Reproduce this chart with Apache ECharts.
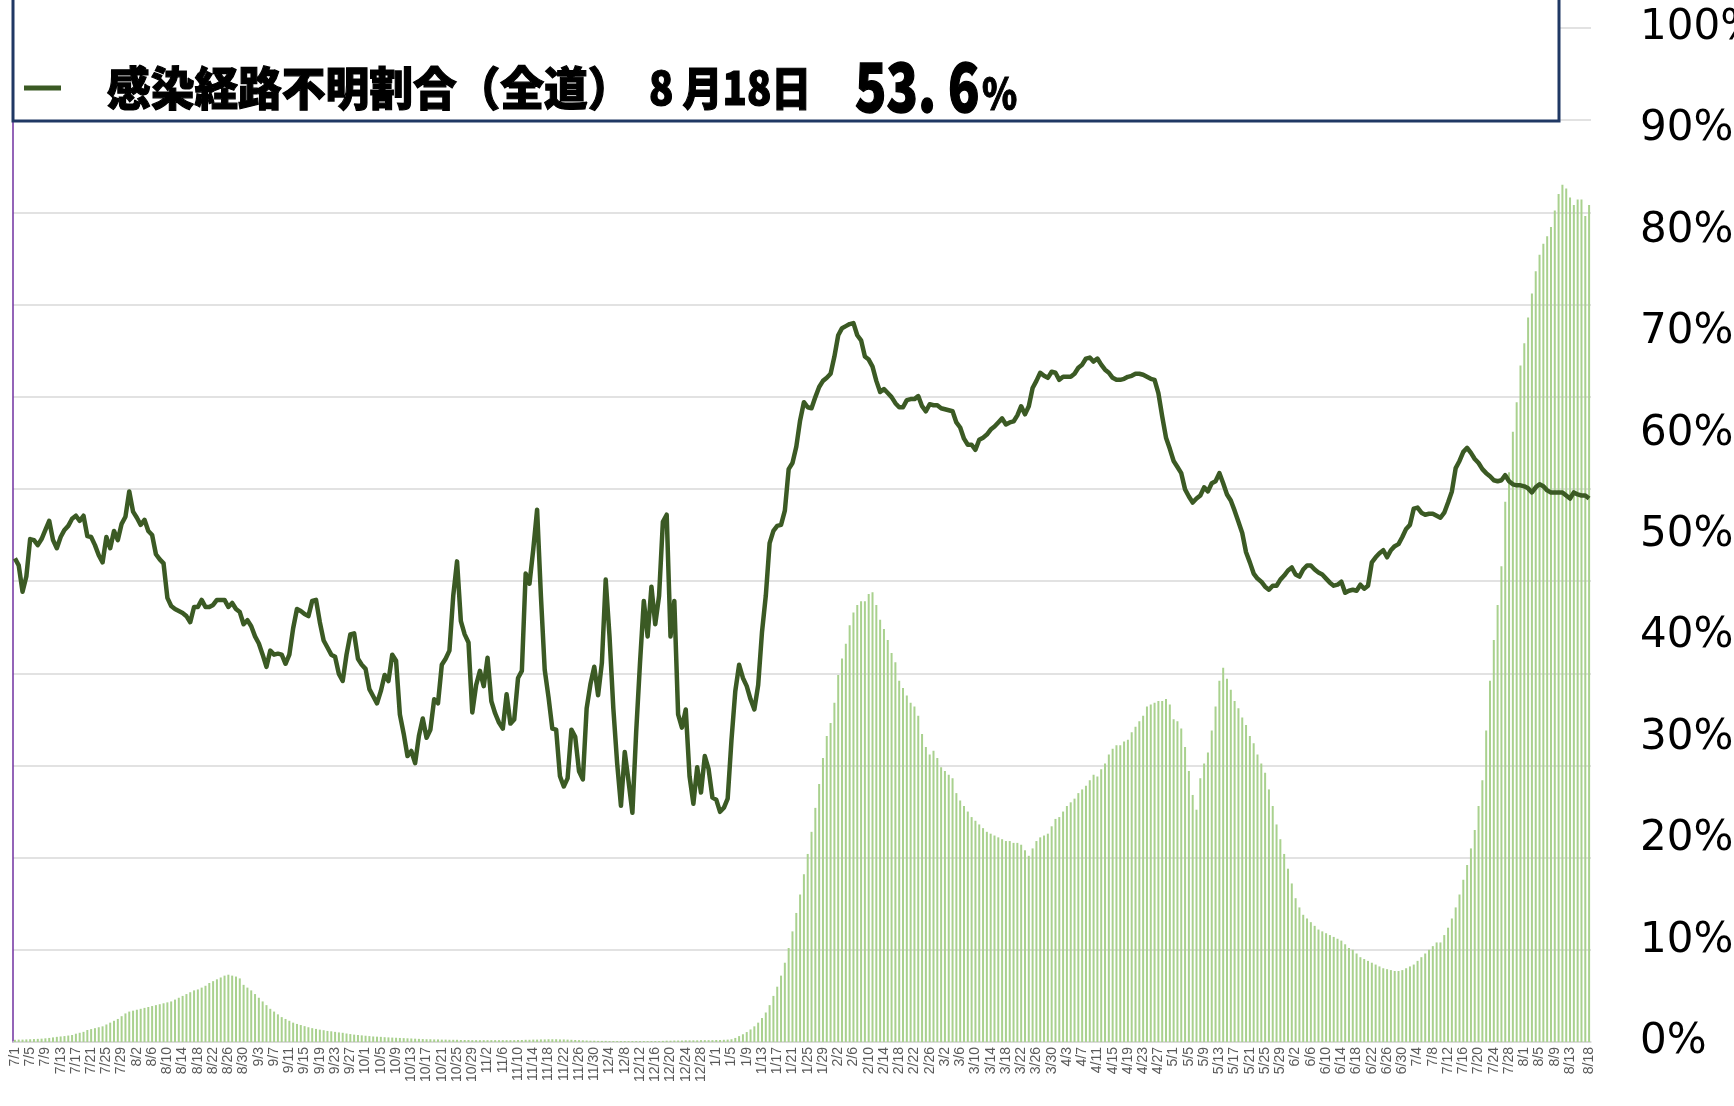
<!DOCTYPE html>
<html>
<head>
<meta charset="utf-8">
<script src="https://cdn.jsdelivr.net/npm/echarts/dist/echarts.min.js"></script>
<style>
  html, body { margin: 0; padding: 0; background: #fff; }
  #main { width: 1734px; height: 1106px; }
</style>
</head>
<body>
<div id="main"></div>
<script>
// 日付（2020/7/1 〜 2021/8/18）
var dates = [];
for (var d = new Date(2020, 6, 1); d <= new Date(2021, 7, 18); d.setDate(d.getDate() + 1)) {
  dates.push((d.getMonth() + 1) + '/' + d.getDate());
}

// 感染経路不明割合（全道）%
var unknownRate = [
  47.7, 47.0, 44.4, 45.9, 49.6, 49.5, 49.0, 49.6, 50.5, 51.4,
  49.5, 48.7, 49.8, 50.5, 50.9, 51.6, 51.9, 51.4, 51.9, 49.9,
  49.8, 49.0, 48.0, 47.3, 49.8, 48.7, 50.4, 49.5, 51.1, 51.8,
  54.3, 52.3, 51.7, 51.0, 51.5, 50.4, 50.0, 48.1, 47.6, 47.2,
  43.8, 43.0, 42.7, 42.5, 42.3, 42.0, 41.4, 42.9, 42.9, 43.6,
  42.9, 42.9, 43.1, 43.6, 43.6, 43.6, 42.9, 43.3, 42.7, 42.4,
  41.2, 41.6, 41.0, 40.0, 39.3, 38.2, 37.0, 38.6, 38.2, 38.3,
  38.2, 37.3, 38.2, 40.8, 42.7, 42.5, 42.2, 42.0, 43.5, 43.6,
  41.4, 39.6, 38.9, 38.2, 38.0, 36.3, 35.6, 38.2, 40.2, 40.3,
  37.8, 37.2, 36.8, 34.8, 34.1, 33.4, 34.6, 36.2, 35.6, 38.2,
  37.6, 32.3, 30.4, 28.2, 28.7, 27.5, 30.2, 31.9, 30.0, 30.8,
  33.8, 33.4, 37.2, 37.8, 38.6, 44.0, 47.4, 41.5, 40.2, 39.4,
  32.5, 35.2, 36.6, 35.1, 37.9, 33.6, 32.4, 31.5, 30.9, 34.3,
  31.4, 31.8, 35.9, 36.6, 46.2, 45.2, 48.6, 52.5, 44.0, 36.7,
  34.0, 30.9, 30.8, 26.2, 25.2, 26.0, 30.8, 30.1, 26.7, 25.9,
  32.9, 35.3, 37.0, 34.2, 37.4, 45.6, 40.0, 32.9, 27.5, 23.3,
  28.6, 25.7, 22.6, 30.6, 37.4, 43.5, 40.0, 44.9, 41.2, 44.0,
  51.3, 52.0, 40.0, 43.5, 32.3, 31.0, 32.8, 26.2, 23.5, 27.1,
  24.6, 28.2, 26.9, 24.1, 23.9, 22.7, 23.1, 24.0, 29.8, 34.6,
  37.2, 35.9, 35.1, 33.8, 32.8, 35.2, 40.4, 44.0, 49.2, 50.4,
  50.9, 51.0, 52.4, 56.5, 57.1, 58.7, 61.3, 63.1, 62.6, 62.5,
  63.6, 64.6, 65.2, 65.5, 65.9, 67.6, 69.7, 70.4, 70.6, 70.8,
  70.9, 69.7, 69.2, 67.6, 67.3, 66.6, 65.2, 64.1, 64.4, 64.0,
  63.6, 63.0, 62.6, 62.6, 63.3, 63.4, 63.4, 63.7, 62.7, 62.2,
  62.9, 62.8, 62.8, 62.5, 62.4, 62.3, 62.2, 61.1, 60.6, 59.5,
  58.9, 58.9, 58.4, 59.4, 59.6, 59.9, 60.4, 60.7, 61.1, 61.5,
  60.9, 61.1, 61.2, 61.8, 62.7, 61.9, 62.7, 64.5, 65.2, 66.0,
  65.7, 65.5, 66.1, 66.0, 65.3, 65.6, 65.6, 65.6, 65.9, 66.5,
  66.8, 67.4, 67.5, 67.1, 67.4, 66.8, 66.3, 66.0, 65.5, 65.3,
  65.3, 65.4, 65.6, 65.7, 65.9, 65.9, 65.8, 65.6, 65.4, 65.3,
  64.0, 61.7, 59.6, 58.5, 57.3, 56.7, 56.1, 54.5, 53.8, 53.2,
  53.6, 53.9, 54.7, 54.3, 55.1, 55.3, 56.1, 55.1, 54.0, 53.4,
  52.4, 51.3, 50.2, 48.3, 47.3, 46.2, 45.7, 45.4, 44.9, 44.6,
  45.0, 45.0, 45.6, 46.0, 46.5, 46.8, 46.1, 45.9, 46.6, 47.0,
  47.0, 46.6, 46.3, 46.1, 45.7, 45.3, 45.0, 45.1, 45.4, 44.3,
  44.5, 44.6, 44.5, 45.1, 44.7, 45.0, 47.3, 47.8, 48.2, 48.5,
  47.8, 48.5, 48.9, 49.1, 49.8, 50.6, 51.0, 52.6, 52.7, 52.2,
  52.0, 52.1, 52.1, 51.9, 51.7, 52.2, 53.2, 54.3, 56.6, 57.3,
  58.2, 58.6, 58.1, 57.5, 57.1, 56.5, 56.1, 55.8, 55.4, 55.3,
  55.4, 55.9, 55.3, 55.0, 54.9, 54.9, 54.8, 54.6, 54.2, 54.7,
  55.0, 54.8, 54.4, 54.2, 54.2, 54.2, 54.2, 53.9, 53.6, 54.2,
  54.0, 53.9, 53.9, 53.6
];

// 棒グラフ（左軸・目盛非表示）
var barValues = [
  1.2, 1.3, 1.3, 1.4, 1.5, 1.6, 1.7, 1.8, 2.0, 2.2,
  2.5, 2.8, 3.0, 3.2, 3.5, 3.8, 4.5, 5.0, 5.5, 6.5,
  7, 7.5, 8, 8.5, 9.5, 10.5, 11.5, 12.5, 14, 15.5,
  16.5, 17, 17.5, 18, 18.5, 19, 19.5, 20, 20.5, 21,
  21.5, 22, 23, 24, 25, 26, 27, 28, 28.5, 29.5,
  30.5, 32, 33, 34, 35, 36, 36.5, 36, 35.5, 34.5,
  31, 29.5, 28, 26, 24, 22, 20, 18, 16.5, 15,
  13.5, 12.5, 11.5, 10.5, 9.8, 9.2, 8.6, 8, 7.5, 7.1,
  6.7, 6.4, 6, 5.8, 5.5, 5.2, 5, 4.6, 4.3, 4,
  3.8, 3.6, 3.4, 3.2, 3.0, 2.9, 2.8, 2.6, 2.5, 2.4,
  2.3, 2.2, 2.1, 2.0, 1.9, 1.8, 1.7, 1.6, 1.5, 1.5,
  1.4, 1.4, 1.3, 1.3, 1.2, 1.2, 1.2, 1.1, 1.1, 1.1,
  1.0, 1.0, 1.0, 1.0, 1.0, 1.0, 1.0, 1.0, 1.0, 1.0,
  1.0, 1.0, 1.1, 1.1, 1.2, 1.2, 1.3, 1.3, 1.4, 1.4,
  1.5, 1.5, 1.5, 1.4, 1.4, 1.3, 1.2, 1.1, 1.0, 0.9,
  0.8, 0.7, 0.7, 0.6, 0.6, 0.6, 0.5, 0.5, 0.5, 0.5,
  0.5, 0.5, 0.5, 0.5, 0.5, 0.5, 0.5, 0.5, 0.5, 0.5,
  0.6, 0.7, 0.7, 0.8, 0.8, 0.8, 0.9, 0.9, 0.9, 0.9,
  1.0, 1.0, 1.0, 1.0, 1.1, 1.1, 1.2, 1.3, 1.5, 2.2,
  3.2, 4.2, 5.4, 6.8, 8.5, 10.5, 13, 16, 20, 25,
  30, 36, 43, 51, 60, 70, 80, 91, 102, 114,
  127, 140, 154, 166, 173, 184, 199, 208, 216, 226,
  233, 237, 239, 239, 243, 244, 237, 229, 224, 218,
  211, 206, 196, 192, 188, 184, 182, 177, 167, 160,
  156, 158, 154, 149, 147, 145, 143, 135, 131, 128,
  125, 122, 120, 118, 116, 114, 113, 112, 111, 110,
  109, 109, 108, 108, 107, 104, 101, 105, 109, 111,
  112, 113, 117, 121, 122, 125, 128, 130, 132, 135,
  137, 139, 142, 145, 144, 148, 151, 156, 159, 161,
  161, 163, 164, 168, 171, 174, 177, 182, 183, 184,
  185, 185, 186, 183, 175, 174, 170, 160, 147, 134,
  126, 143, 151, 157, 169, 182, 196, 203, 197, 191,
  185, 181, 176, 172, 166, 162, 156, 151, 146, 137,
  128, 118, 110, 102, 94, 86, 78, 73, 69, 67,
  65, 63, 61, 60, 59, 58, 57, 56, 55, 53,
  51, 50, 48, 46, 45, 44, 43, 42, 41, 40,
  39.5, 39, 38.5, 38.5, 39, 40, 41, 42, 44, 46,
  48, 50, 52, 54, 54, 58, 62, 67, 73, 80,
  88, 96, 105, 115, 128, 142, 169, 196, 218, 237,
  258, 293, 309, 331, 347, 367, 379, 393, 406, 418,
  427, 433, 437, 442, 451, 460, 465, 463, 458, 454,
  457, 457, 448, 454
];

var rightTicks = [0, 100, 10];   // min, max, interval (%)
var leftTicks = [0, 550, 50];    // 11 本の目盛線

var titleText = '感染経路不明割合（全道）';
var dateText = '8 月18日';
var latestText = '53. 6';

var myChart = echarts.init(document.getElementById('main'));

var option = {
  animation: false,
  backgroundColor: '#fff',
  grid: {
    left: 13, right: 143, top: 28, bottom: 64,
    containLabel: false,
    outerBoundsMode: 'none'
  },
  xAxis: {
    type: 'category',
    data: dates,
    boundaryGap: true,
    axisLine: { lineStyle: { color: '#d9d9d9', width: 1.5 } },
    axisTick: { show: false },
    axisLabel: {
      rotate: 90,
      margin: 5,
      fontSize: 14,
      fontFamily: 'Liberation Sans',
      color: '#595959',
      hideOverlap: false,
      showMinLabel: true,
      showMaxLabel: true,
      interval: function (idx) { return idx % 4 === 0 || idx === dates.length - 1; }
    }
  },
  yAxis: [
    {
      type: 'value',
      position: 'left',
      min: leftTicks[0], max: leftTicks[1], interval: leftTicks[2],
      axisLine: { show: true, lineStyle: { color: '#7030a0', width: 1.5 } },
      axisTick: { show: false },
      axisLabel: { show: false },
      splitLine: { lineStyle: { color: '#d9d9d9', width: 1.5 } }
    },
    {
      type: 'value',
      position: 'right',
      min: rightTicks[0], max: rightTicks[1], interval: rightTicks[2],
      axisLine: { show: false },
      axisTick: { show: false },
      splitLine: { show: false },
      axisLabel: {
        formatter: '{value}%',
        margin: 49,
        fontSize: 42,
        fontFamily: 'DejaVu Sans',
        color: '#000'
      }
    }
  ],
  series: [
    {
      type: 'bar',
      yAxisIndex: 0,
      data: barValues,
      barWidth: 2,
      itemStyle: { color: '#a9d18e' }
    },
    {
      type: 'line',
      yAxisIndex: 1,
      data: unknownRate,
      showSymbol: false,
      symbol: 'none',
      lineStyle: { color: '#3b5a24', width: 4.5, join: 'round' }
    }
  ],
  graphic: [
    {
      type: 'rect', z: 100,
      shape: { x: 13, y: -10, width: 1546, height: 131 },
      style: { fill: '#fff', stroke: '#203864', lineWidth: 3 }
    },
    {
      type: 'line', z: 101,
      shape: { x1: 24, y1: 88, x2: 61, y2: 88 },
      style: { stroke: '#3b5a24', lineWidth: 5 }
    },
    {
      type: 'text', z: 101, x: 107, y: 88, scaleX: 0.95,
      style: {
        text: titleText, fill: '#000', stroke: '#000', lineWidth: 1.2,
        verticalAlign: 'middle',
        font: '900 46px "Noto Sans CJK JP"'
      }
    },
    {
      type: 'text', z: 101, x: 649, y: 88, scaleX: 0.87,
      style: {
        text: dateText, fill: '#000', stroke: '#000', lineWidth: 1.2,
        verticalAlign: 'middle',
        font: '900 46px "Noto Sans CJK JP"'
      }
    },
    {
      type: 'text', z: 101, x: 855, y: 86, scaleX: 0.76,
      style: {
        text: latestText, fill: '#000', stroke: '#000', lineWidth: 1.5,
        verticalAlign: 'middle',
        font: '900 68px "Noto Sans CJK JP"'
      }
    },
    {
      type: 'text', z: 101, x: 982, y: 93, scaleX: 0.85,
      style: {
        text: '%', fill: '#000', stroke: '#000', lineWidth: 1,
        verticalAlign: 'middle',
        font: '900 42px "Noto Sans CJK JP"'
      }
    }
  ]
};

myChart.setOption(option);
</script>
</body>
</html>
